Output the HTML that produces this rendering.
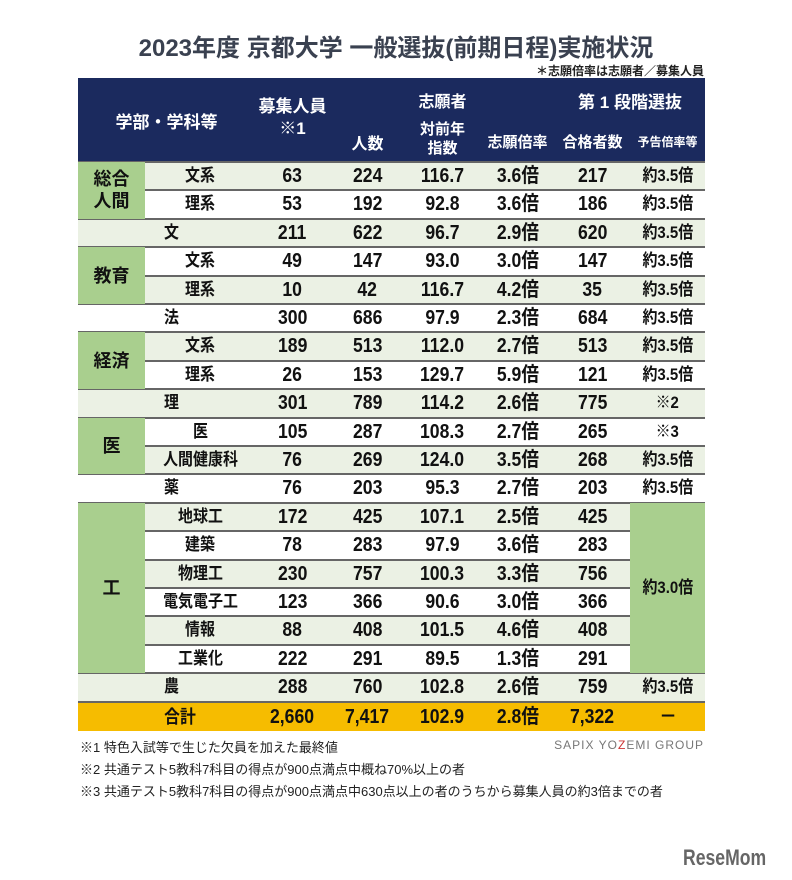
<!DOCTYPE html>
<html><head><meta charset="utf-8"><style>
body{margin:0;background:#fff;width:792px;height:880px;position:relative;overflow:hidden;font-family:"Liberation Sans","Noto Sans CJK JP",sans-serif;}
.a{position:absolute;}
.t{position:absolute;text-align:center;font-weight:bold;color:#111;white-space:nowrap;}
.t span{display:inline-block;transform:scaleX(0.88);}
.h{position:absolute;text-align:center;font-weight:bold;color:#fff;white-space:nowrap;}
</style></head><body>
<div class="a" style="left:0;top:28px;width:792px;text-align:center;font-size:24px;font-weight:bold;color:#3a4150;">2023年度 京都大学 一般選抜(前期日程)実施状況</div>
<div class="a" style="right:88px;top:62px;font-size:12px;font-weight:bold;color:#222;">＊志願倍率は志願者／募集人員</div>
<div class="a" style="left:78px;top:78px;width:627px;height:83px;background:#1b2a5e;"></div>
<div class="h" style="left:78px;top:108px;width:177px;font-size:17px;">学部・学科等</div>
<div class="h" style="left:255px;top:96px;width:75px;font-size:17px;line-height:22px;">募集人員<br>※1</div>
<div class="h" style="left:405px;top:88px;width:75px;font-size:16px;">志願者</div>
<div class="h" style="left:555px;top:88px;width:150px;font-size:17px;">第 1 段階選抜</div>
<div class="h" style="left:330px;top:130px;width:75px;font-size:16px;">人数</div>
<div class="h" style="left:405px;top:120px;width:75px;font-size:15px;line-height:19px;">対前年<br>指数</div>
<div class="h" style="left:480px;top:131px;width:75px;font-size:15px;">志願倍率</div>
<div class="h" style="left:555px;top:131px;width:75px;font-size:15px;">合格者数</div>
<div class="h" style="left:630px;top:133px;width:75px;font-size:12px;">予告倍率等</div>
<div id="rows"></div>
<div class="a" style="left:80px;top:737px;font-size:13px;color:#222;line-height:22px;">※1 特色入試等で生じた欠員を加えた最終値<br>※2 共通テスト5教科7科目の得点が900点満点中概ね70%以上の者<br>※3 共通テスト5教科7科目の得点が900点満点中630点以上の者のうちから募集人員の約3倍までの者</div>
<div class="a" style="right:88px;top:738px;font-size:12px;color:#777;letter-spacing:1px;">SAPIX YO<span style="color:#c33">Z</span>EMI GROUP</div>
<div class="a" style="left:683px;top:845px;font-size:22px;font-weight:bold;color:#666;transform:scaleX(0.8);transform-origin:left;">ReseMom</div>
<script>
var rows=[
["総合人間","文系","63","224","116.7","3.6倍","217","約3.5倍"],
[null,"理系","53","192","92.8","3.6倍","186","約3.5倍"],
["","文","211","622","96.7","2.9倍","620","約3.5倍"],
["教育","文系","49","147","93.0","3.0倍","147","約3.5倍"],
[null,"理系","10","42","116.7","4.2倍","35","約3.5倍"],
["","法","300","686","97.9","2.3倍","684","約3.5倍"],
["経済","文系","189","513","112.0","2.7倍","513","約3.5倍"],
[null,"理系","26","153","129.7","5.9倍","121","約3.5倍"],
["","理","301","789","114.2","2.6倍","775","※2"],
["医","医","105","287","108.3","2.7倍","265","※3"],
[null,"人間健康科","76","269","124.0","3.5倍","268","約3.5倍"],
["","薬","76","203","95.3","2.7倍","203","約3.5倍"],
["工","地球工","172","425","107.1","2.5倍","425",""],
[null,"建築","78","283","97.9","3.6倍","283",""],
[null,"物理工","230","757","100.3","3.3倍","756",""],
[null,"電気電子工","123","366","90.6","3.0倍","366",""],
[null,"情報","88","408","101.5","4.6倍","408",""],
[null,"工業化","222","291","89.5","1.3倍","291",""],
["","農","288","760","102.8","2.6倍","759","約3.5倍"]];
var spans={0:2,3:2,6:2,9:2,12:6};
var top0=162,rh=28.4,h="";
var cx=[255,330,405,480,555,630];
function cell(x,y,w,fs,txt){return '<div class="t" style="left:'+x+'px;top:'+y+'px;width:'+w+'px;height:'+rh+'px;line-height:'+rh+'px;font-size:'+fs+'px;"><span>'+txt+'</span></div>';}
for(var i=0;i<rows.length;i++){
 var y=top0+i*rh,r=rows[i],bg=i%2==0?"#ebf1e4":"#fff";
 h+='<div class="a" style="left:78px;top:'+y+'px;width:627px;height:'+rh+'px;background:'+bg+'"></div>';
 if(r[0]==="")h+=cell(145,y,52,17,r[1]); else h+=cell(145,y,110,17,r[1]);
 for(var j=0;j<6;j++){ if(r[j+2]!=="") h+=cell(cx[j],y,75,j==5?17:20,r[j+2]);}
 var lineL=(r[0]===null)?145:78;
 h+='<div class="a" style="left:'+lineL+'px;top:'+(y-1)+'px;width:'+(705-lineL)+'px;height:2px;background:#666"></div>';
}
for(var k in spans){var i=+k,y=top0+i*rh,n=spans[k];
 h+='<div class="a" style="left:78px;top:'+y+'px;width:67px;height:'+(n*rh)+'px;background:#a9cf8e"></div>';
 var lbl=rows[i][0];
 if(lbl.length==4)lbl=lbl.slice(0,2)+'<br>'+lbl.slice(2);
 var lines=lbl.indexOf('<br>')>0?2:1;
 h+='<div class="t" style="left:78px;top:'+(y+n*rh/2-lines*11)+'px;width:67px;font-size:18px;line-height:22px;">'+lbl+'</div>';
}
var y12=top0+12*rh;
h+='<div class="a" style="left:630px;top:'+y12+'px;width:75px;height:'+(6*rh)+'px;background:#a9cf8e"></div>';
h+=cell(630,y12+2.5*rh,75,17,'約3.0倍');
var yt=top0+19*rh;
h+='<div class="a" style="left:78px;top:'+(yt-1)+'px;width:627px;height:2px;background:#666"></div>';
h+='<div class="a" style="left:78px;top:'+(yt+1)+'px;width:627px;height:28px;background:#f6bc00"></div>';
var tot=["2,660","7,417","102.9","2.8倍","7,322","－"];
h+=cell(150,yt+1,60,18,'合計');
for(var j=0;j<6;j++)h+=cell(cx[j],yt+1,75,20,tot[j]);
document.getElementById('rows').innerHTML=h;
</script>
</body></html>
